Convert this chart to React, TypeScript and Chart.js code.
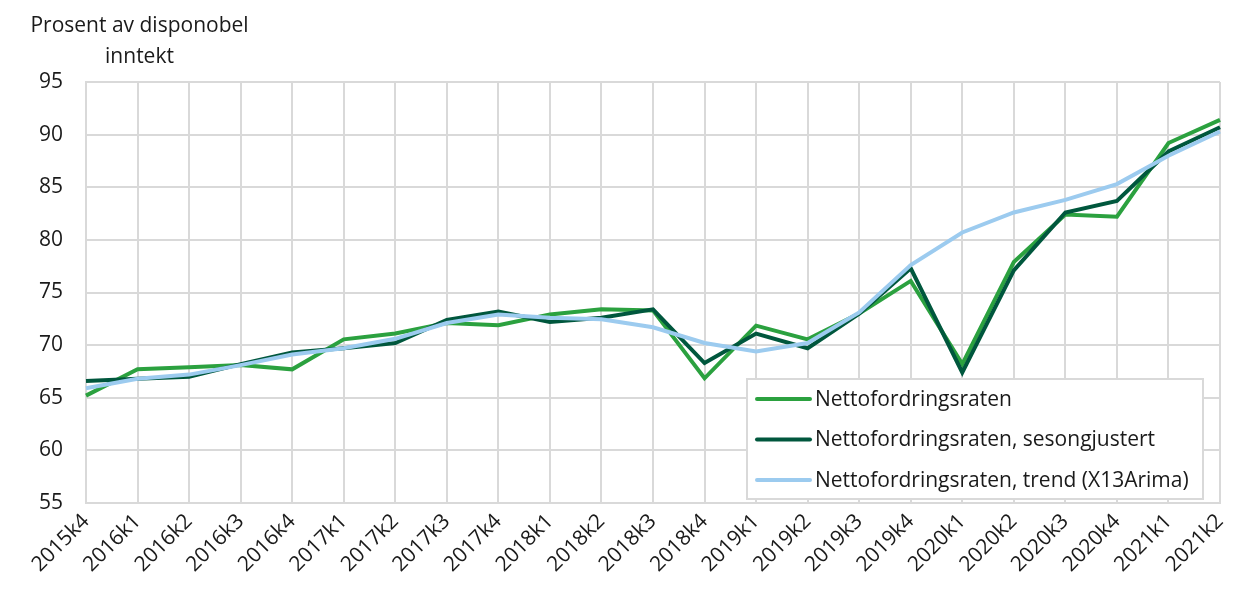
import React, { useEffect, useRef } from "react";
import { Chart, registerables } from "chart.js";

Chart.register(...registerables);

const categories = [
  "2015k4", "2016k1", "2016k2", "2016k3", "2016k4", "2017k1", "2017k2", "2017k3",
  "2017k4", "2018k1", "2018k2", "2018k3", "2018k4", "2019k1", "2019k2", "2019k3",
  "2019k4", "2020k1", "2020k2", "2020k3", "2020k4", "2021k1", "2021k2",
];

const nettofordringsraten = [
  65.2, 67.7, 67.9, 68.1, 67.7, 70.55, 71.1, 72.1, 71.9, 72.9, 73.4, 73.3,
  66.85, 71.85, 70.55, 73.0, 76.1, 68.2, 77.9, 82.4, 82.2, 89.2, 91.4,
];

const sesongjustert = [
  66.6, 66.8, 67.0, 68.2, 69.3, 69.7, 70.2, 72.4, 73.2, 72.2, 72.6, 73.4,
  68.3, 71.1, 69.7, 73.0, 77.3, 67.4, 77.1, 82.6, 83.7, 88.4, 90.7,
];

const trend = [
  65.9, 66.8, 67.2, 68.1, 69.1, 69.7, 70.6, 72.1, 72.9, 72.6, 72.45, 71.7,
  70.2, 69.4, 70.2, 73.1, 77.6, 80.7, 82.6, 83.8, 85.3, 88.0, 90.3,
];

const seriesNames = [
  "Nettofordringsraten",
  "Nettofordringsraten, sesongjustert",
  "Nettofordringsraten, trend (X13Arima)",
];
const seriesColors = ["#2ba13f", "#00573d", "#9ccbef"];

const yTitleLines = ["Prosent av disponobel", "inntekt"];

const FONT = "'Open Sans', sans-serif";
const TEXT = "#1a1a1a";
const GRID = "#d9d9d9";
const FS = 21;

const titlePlugin = {
  id: "yTitle",
  afterDraw(chart: any) {
    const ctx = chart.ctx;
    const cx = chart.chartArea.left + 53.5;
    ctx.save();
    ctx.font = `${FS}px ${FONT}`;
    ctx.fillStyle = TEXT;
    ctx.textAlign = "center";
    ctx.textBaseline = "alphabetic";
    ctx.fillText(yTitleLines[0], cx, 32);
    ctx.fillText(yTitleLines[1], cx, 63);
    ctx.restore();
  },
};

const legendPlugin = {
  id: "boxLegend",
  afterDraw(chart: any) {
    const ctx = chart.ctx;
    const a = chart.chartArea;
    const left = a.right - 473;
    const right = a.right - 17;
    const top = a.top + 297;
    const bottom = a.bottom - 4;
    ctx.save();
    ctx.fillStyle = "#ffffff";
    ctx.fillRect(left, top, right - left, bottom - top);
    ctx.strokeStyle = GRID;
    ctx.lineWidth = 2;
    ctx.strokeRect(left, top, right - left, bottom - top);
    ctx.font = `${FS}px ${FONT}`;
    ctx.textBaseline = "middle";
    ctx.textAlign = "left";
    chart.data.datasets.forEach((ds: any, i: number) => {
      const y = top + 20 + i * 40.5;
      ctx.strokeStyle = ds.borderColor;
      ctx.lineWidth = 4;
      ctx.lineCap = "round";
      ctx.beginPath();
      ctx.moveTo(left + 10, y);
      ctx.lineTo(left + 63, y);
      ctx.stroke();
      ctx.fillStyle = TEXT;
      ctx.fillText(ds.label, left + 68, y + 1);
    });
    ctx.restore();
  },
};

export default function App() {
  const ref = useRef<HTMLCanvasElement | null>(null);
  useEffect(() => {
    if (!ref.current) return;
    const mk = (data: number[], i: number) => ({
      label: seriesNames[i],
      data,
      borderColor: seriesColors[i],
      backgroundColor: seriesColors[i],
      borderWidth: 4,
      pointRadius: 0,
      tension: 0,
      fill: false,
      order: 3 - i,
    });
    const chart = new Chart(ref.current, {
      type: "line",
      data: {
        labels: categories,
        datasets: [mk(nettofordringsraten, 0), mk(sesongjustert, 1), mk(trend, 2)],
      },
      options: {
        animation: false,
        responsive: false,
        maintainAspectRatio: false,
        layout: { padding: { top: 82, left: 0, right: 38, bottom: 0 } },
        plugins: {
          legend: { display: false },
          tooltip: { enabled: false },
          title: { display: false },
        },
        scales: {
          x: {
            offset: false,
            grid: { color: GRID, lineWidth: 2, drawTicks: false },
            border: { color: GRID, width: 2 },
            ticks: {
              color: TEXT,
              font: { family: FONT, size: FS },
              minRotation: 45,
              maxRotation: 45,
              autoSkip: false,
              padding: 6,
            },
            afterFit(scale: any) {
              scale.height = 616 - 503;
            },
          },
          y: {
            min: 55,
            max: 95,
            grid: { color: GRID, lineWidth: 2, drawTicks: false },
            border: { color: GRID, width: 2 },
            ticks: {
              stepSize: 5,
              color: TEXT,
              font: { family: FONT, size: FS },
              padding: 23,
            },
            afterFit(scale: any) {
              scale.width = 86;
            },
          },
        },
      },
      plugins: [titlePlugin, legendPlugin],
    });
    return () => chart.destroy();
  }, []);
  return (
    <div style={{ position: "absolute", left: 0, top: 0, width: 1258, height: 616, background: "#fff" }}>
      <canvas ref={ref} width={1258} height={616} style={{ width: 1258, height: 616 }} />
    </div>
  );
}
